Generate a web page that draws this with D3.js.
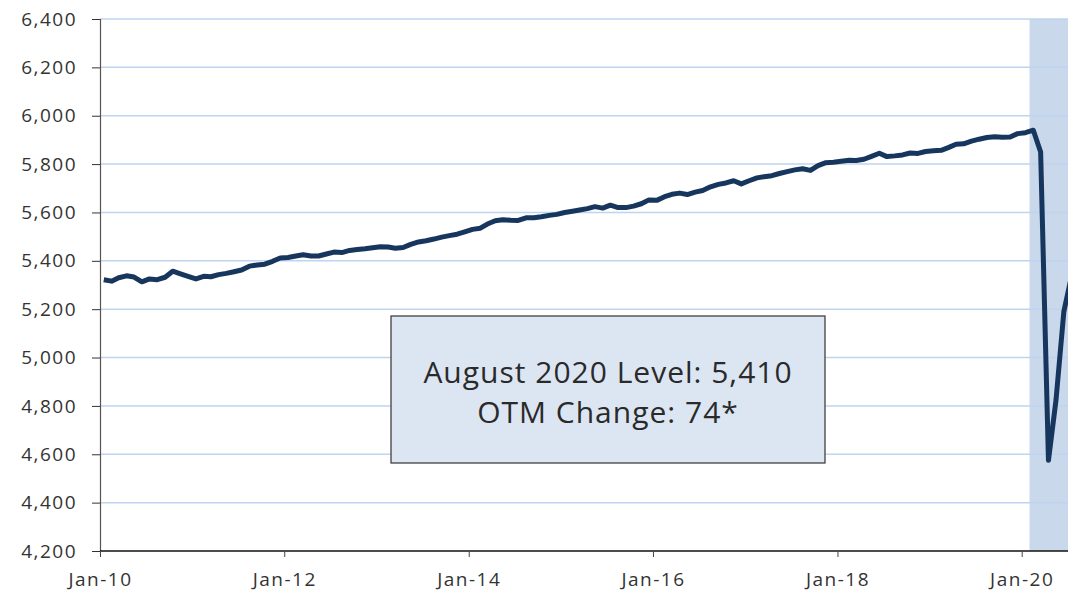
<!DOCTYPE html>
<html>
<head>
<meta charset="utf-8">
<script src="https://cdn.jsdelivr.net/npm/d3@7"></script>
<style>
  body { margin: 0; background: #fff; }
  svg { display: block; font-family: "Open Sans", sans-serif; }
</style>
</head>
<body>
<svg id="chart"></svg>
<script>
// monthly level, Jan 2010 .. Aug 2020 (thousands)
var startMonth = "2010-01";
var levels2010 = [5322, 5316, 5330, 5338, 5333, 5313, 5325, 5322, 5332, 5357, 5346, 5336];
var levels2011 = [5325, 5336, 5334, 5343, 5348, 5355, 5362, 5378, 5383, 5386, 5398, 5412];
var levels2012 = [5414, 5420, 5425, 5420, 5420, 5428, 5436, 5434, 5443, 5447, 5450, 5454];
var levels2013 = [5458, 5457, 5452, 5455, 5468, 5478, 5483, 5490, 5498, 5504, 5510, 5520];
var levels2014 = [5530, 5535, 5552, 5566, 5570, 5568, 5567, 5578, 5578, 5582, 5588, 5592];
var levels2015 = [5600, 5605, 5610, 5616, 5624, 5618, 5630, 5620, 5620, 5626, 5636, 5652];
var levels2016 = [5650, 5665, 5675, 5680, 5674, 5684, 5691, 5706, 5716, 5722, 5731, 5718];
var levels2017 = [5731, 5743, 5748, 5752, 5761, 5769, 5776, 5781, 5774, 5794, 5806, 5808];
var levels2018 = [5812, 5816, 5815, 5820, 5832, 5845, 5831, 5834, 5838, 5846, 5844, 5852];
var levels2019 = [5855, 5857, 5868, 5882, 5884, 5895, 5903, 5910, 5913, 5911, 5912, 5926];
var levels2020 = [5930, 5940, 5850, 4575, 4825, 5190, 5335, 5410];

var yTicks = [4200, 4400, 4600, 4800, 5000, 5200, 5400, 5600, 5800, 6000, 6200, 6400];
var xTickLabels = ["Jan-10", "Jan-12", "Jan-14", "Jan-16", "Jan-18", "Jan-20"];
var recessionStart = "2020-02";
var boxLines = ["August 2020 Level: 5,410", "OTM Change: 74*"];

var screen = { width: 1068, height: 593 };
var margins = { top: 19, left: 100, bottom: 42 };

var svg = d3.select("#chart")
  .attr("width", screen.width)
  .attr("height", screen.height);

var parseMonth = d3.timeParse("%Y-%m");
var parseLabel = d3.timeParse("%b-%y");

var allLevels = [].concat(levels2010, levels2011, levels2012, levels2013, levels2014,
  levels2015, levels2016, levels2017, levels2018, levels2019, levels2020);
var data = allLevels.map(function(v, i) {
  var d = d3.timeMonth.offset(parseMonth(startMonth), i);
  return { date: d, mid: d3.timeDay.offset(d, 15), value: v };
});

var plotBottom = screen.height - margins.bottom;

// Jan-10 .. Jan-20 spans 1021.7 - 100 px, plot runs off the right edge
var xScale = d3.scaleTime()
  .domain([parseLabel("Jan-10"), parseLabel("Jan-20")])
  .range([margins.left, 1021.7]);
var yScale = d3.scaleLinear()
  .domain([4200, 6400])
  .range([plotBottom, margins.top]);

// recession shading
var recX = xScale(parseMonth(recessionStart));
svg.append("rect")
  .attr("x", recX)
  .attr("y", margins.top)
  .attr("width", screen.width - recX)
  .attr("height", plotBottom - margins.top)
  .attr("fill", "#c9d8eb");

// gridlines
svg.append("g").classed("grid", true)
  .selectAll("line")
  .data(yTicks.filter(function(t) { return t > 4200; }))
  .enter()
  .append("line")
  .attr("x1", margins.left)
  .attr("x2", screen.width)
  .attr("y1", function(d) { return yScale(d); })
  .attr("y2", function(d) { return yScale(d); })
  .attr("stroke", "#bfd4ef")
  .attr("stroke-width", 1.5);

// axes
var yAxis = d3.axisLeft(yScale)
  .tickValues(yTicks)
  .tickFormat(d3.format(","))
  .tickSize(8)
  .tickPadding(15);
var yG = svg.append("g").classed("yAxis", true)
  .attr("transform", "translate(" + margins.left + ",0)")
  .call(yAxis);
yG.select(".domain").attr("stroke", "#555").attr("stroke-width", 1.2);
yG.selectAll(".tick line").attr("stroke", "#333");

var xAxis = d3.axisBottom(xScale)
  .tickValues(xTickLabels.map(function(s) { return parseLabel(s); }))
  .tickFormat(d3.timeFormat("%b-%y"))
  .tickSize(6)
  .tickPadding(16);
var xG = svg.append("g").classed("xAxis", true)
  .attr("transform", "translate(0," + plotBottom + ")")
  .call(xAxis);
xG.select(".domain").attr("d", "M" + margins.left + ",0H" + screen.width)
  .attr("stroke", "#111").attr("stroke-width", 1.5);
xG.selectAll(".tick line").attr("stroke", "#444");

svg.selectAll(".tick text")
  .attr("font-size", 19)
  .attr("letter-spacing", "1.5px")
  .attr("fill", "#333")
  .attr("font-family", "'Open Sans', sans-serif");

// the line
var line = d3.line()
  .x(function(d) { return xScale(d.mid); })
  .y(function(d) { return yScale(d.value); });

svg.append("path")
  .datum(data)
  .attr("d", line)
  .attr("fill", "none")
  .attr("stroke", "#17365d")
  .attr("stroke-width", 5)
  .attr("stroke-linejoin", "round");

// annotation box
var box = svg.append("g").classed("note", true);
box.append("rect")
  .attr("x", 391)
  .attr("y", 316)
  .attr("width", 434)
  .attr("height", 147)
  .attr("fill", "#dce6f2")
  .attr("stroke", "#333")
  .attr("stroke-width", 1.2);
box.selectAll("text")
  .data(boxLines)
  .enter()
  .append("text")
  .attr("x", 608)
  .attr("y", function(d, i) { return 383 + i * 40; })
  .attr("text-anchor", "middle")
  .attr("font-size", 30)
  .attr("letter-spacing", "1px")
  .attr("fill", "#2a2a2a")
  .text(function(d) { return d; });
</script>
</body>
</html>
